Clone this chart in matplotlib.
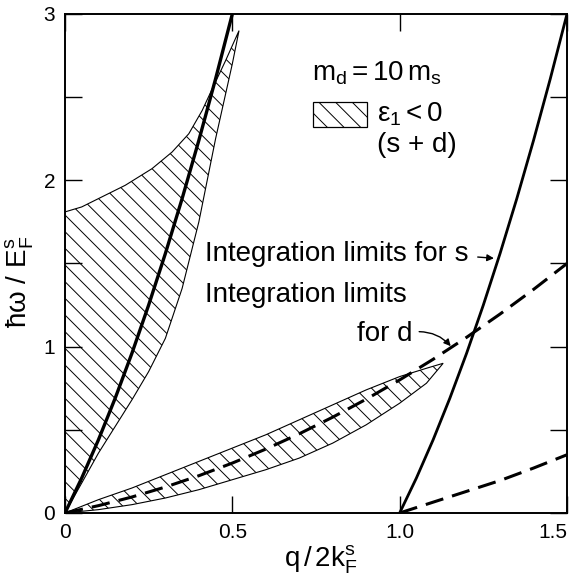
import matplotlib
matplotlib.use("Agg")
import matplotlib.pyplot as plt
from matplotlib.patches import Rectangle

plt.rcParams["font.family"] = ["Liberation Sans", "DejaVu Sans"]
plt.rcParams["mathtext.fontset"] = "custom"
plt.rcParams["mathtext.rm"] = "Liberation Sans"
plt.rcParams["mathtext.it"] = "Liberation Sans"
plt.rcParams["mathtext.bf"] = "Liberation Sans:bold"
plt.rcParams["hatch.linewidth"] = 0.7

# s-band integration limits (solid)
s_up_q = [0, 0.05, 0.1, 0.15, 0.2, 0.25, 0.3, 0.35, 0.4, 0.45, 0.5]
s_up_w = [0, 0.21, 0.44, 0.69, 0.96, 1.25, 1.56, 1.89, 2.24, 2.61, 3.0]
s_lo_q = [1.0, 1.05, 1.1, 1.15, 1.2, 1.25, 1.3, 1.35, 1.4, 1.45, 1.5]
s_lo_w = [0, 0.21, 0.44, 0.69, 0.96, 1.25, 1.56, 1.89, 2.24, 2.61, 3.0]

# d-band integration limits (dashed)
d_up_q = [0, 0.1, 0.2, 0.3, 0.4, 0.5, 0.6, 0.7, 0.8, 0.9, 1.0, 1.1, 1.2, 1.3, 1.4, 1.5]
d_up_w = [0, 0.044, 0.096, 0.156, 0.224, 0.30, 0.384, 0.476, 0.576, 0.684, 0.80,
          0.924, 1.056, 1.196, 1.344, 1.50]
d_lo_q = [1.0, 1.1, 1.2, 1.3, 1.4, 1.5]
d_lo_w = [0, 0.065, 0.13, 0.195, 0.27, 0.35]

# eps1 < 0 region near the s upper limit
r1_lo_q = [0, 0.05, 0.1, 0.15, 0.2, 0.25, 0.3, 0.35, 0.4, 0.45, 0.5, 0.52]
r1_lo_w = [0, 0.18, 0.36, 0.52, 0.68, 0.85, 1.05, 1.35, 1.75, 2.25, 2.70, 2.90]
r1_up_q = [0, 0.05, 0.1, 0.18, 0.26, 0.32, 0.37, 0.41, 0.44, 0.48, 0.52]
r1_up_w = [1.81, 1.84, 1.89, 1.97, 2.07, 2.17, 2.28, 2.42, 2.55, 2.72, 2.90]

# eps1 < 0 region around the d upper limit
r2_q = [0, 0.1, 0.2, 0.3, 0.4, 0.5, 0.6, 0.7, 0.8, 0.9, 1.0, 1.08, 1.13]
r2_up_w = [0, 0.08, 0.15, 0.23, 0.31, 0.39, 0.47, 0.56, 0.65, 0.74, 0.82, 0.87, 0.90]
r2_lo_w = [0, 0.02, 0.05, 0.09, 0.14, 0.20, 0.26, 0.33, 0.42, 0.53, 0.66, 0.78, 0.90]

fig = plt.figure(figsize=(5.74, 5.78), dpi=100)
ax = fig.add_axes([0.1132, 0.1125, 0.8746, 0.8633])

# hatched regions
p1_q = r1_lo_q + r1_up_q[::-1]
p1_w = r1_lo_w + r1_up_w[::-1]
ax.fill(p1_q, p1_w, facecolor="none", edgecolor="black", hatch="\\\\", lw=0.8)
p2_q = r2_q + r2_q[::-1]
p2_w = r2_lo_w + r2_up_w[::-1]
ax.fill(p2_q, p2_w, facecolor="none", edgecolor="black", hatch="\\\\", lw=0.8)

ax.plot(s_up_q, s_up_w, color="black", lw=2.4, solid_capstyle="butt")
ax.plot(s_lo_q, s_lo_w, color="black", lw=2.0, solid_capstyle="butt")
ax.plot(d_up_q, d_up_w, color="black", lw=2.2, linestyle=(0, (6, 3)))
ax.plot(d_lo_q, d_lo_w, color="black", lw=2.2, linestyle=(0, (6, 3)))

ax.set_xlim(0, 1.5)
ax.set_ylim(0, 3)
ax.set_xticks([0, 0.5, 1.0, 1.5])
ax.set_xticklabels(["0", "0.5", "1.0", "1.5"])
ax.set_yticks([0, 1, 2, 3])
ax.set_yticks([0.5, 1.5, 2.5], minor=True)
ax.tick_params(which="both", direction="in", top=True, right=True,
               length=12, width=1.0, labelsize=15, pad=7)
ax.get_xticklabels()[-1].set_horizontalalignment("right")
for sp in ax.spines.values():
    sp.set_linewidth(1.4)

ax.set_xlabel(r"$\mathregular{q\,/\,2k_F^s}$", fontsize=20)
ax.set_ylabel(r"ħω / $\mathregular{E_F^s}$", fontsize=20)
ax.xaxis.set_label_coords(0.51, -0.062)
ax.yaxis.set_label_coords(-0.058, 0.463)

# legend block
ax.text(0.737, 2.645, r"$\mathregular{m_d = 10\,m_s}$", fontsize=20, va="center")
ax.add_patch(Rectangle((0.494, 0.774), 0.108, 0.05, transform=ax.transAxes,
                       facecolor="none", edgecolor="black", hatch="\\\\", lw=0.9))
ax.text(0.931, 2.40, r"$\mathregular{ε_1 < 0}$", fontsize=20, va="center")
ax.text(0.931, 2.21, "(s + d)", fontsize=20, va="center")

ax.text(0.418, 1.554, "Integration limits for s", fontsize=20, va="center")
ax.annotate("", xy=(1.29, 1.53), xytext=(1.225, 1.54),
            arrowprops=dict(arrowstyle="-|>", color="black", lw=1.0,
                            mutation_scale=10))
ax.text(0.418, 1.313, "Integration limits", fontsize=20, va="center")
ax.text(0.872, 1.078, "for d", fontsize=20, va="center")
ax.annotate("", xy=(1.158, 0.99), xytext=(1.05, 1.09),
            arrowprops=dict(arrowstyle="-|>", color="black", lw=1.0,
                            mutation_scale=10, connectionstyle="arc3,rad=-0.25"))

fig.savefig("out.png", dpi=100)
